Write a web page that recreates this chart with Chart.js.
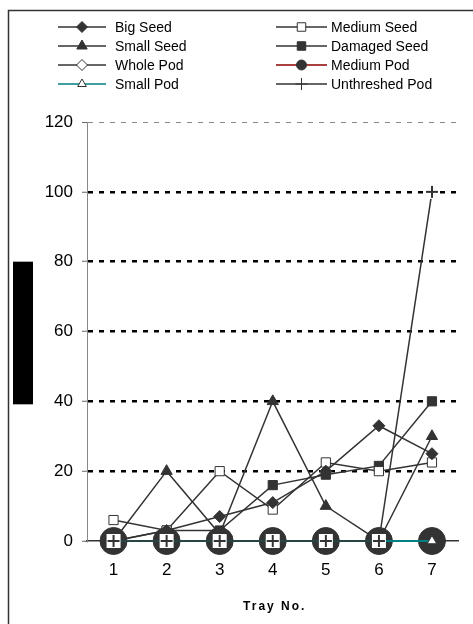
<!DOCTYPE html>
<html>
<head>
<meta charset="utf-8">
<script src="https://cdn.jsdelivr.net/npm/chart.js@4/dist/chart.umd.min.js"></script>
<style>
  body { margin: 0; background: #fff; }
  #wrap { position: relative; width: 473px; height: 624px; }
</style>
</head>
<body>
<div id="wrap"><canvas id="chart"></canvas></div>
<script>
const trays = ["1", "2", "3", "4", "5", "6", "7"];
const bigSeed = [0, 3, 7, 11, 20, 33, 25];
const mediumSeed = [6, 3, 20, 9, 22.5, 20, 22.5];
const smallSeed = [0, 20, 2, 40, 10, 0, 30];
const damagedSeed = [0, 3, 3, 16, 19, 21.5, 40];
const wholePod = [0, 0, 0, 0, 0, 0, 0];
const mediumPod = [0, 0, 0, 0, 0, 0, 0];
const smallPod = [0, 0, 0, 0, 0, 0, 0];
const unthreshedPod = [0, 0, 0, 0, 0, 0, 100];
const yTicks = [0, 20, 40, 60, 80, 100, 120];

const FONT = "'Liberation Sans', Arial, sans-serif";
const INK = "#333";

// "+" marker drawn on a white square, like the spreadsheet plus marker
function plusMarker() {
  const c = document.createElement("canvas");
  c.width = 16; c.height = 16;
  const g = c.getContext("2d");
  g.fillStyle = "#fff";
  g.fillRect(1, 1, 14, 14);
  g.fillStyle = INK;
  g.fillRect(7, 2, 2, 12);
  g.fillRect(2, 7, 12, 2);
  return c;
}

function series(label, data, opts) {
  return Object.assign({
    label, data,
    borderColor: INK, borderWidth: 1.5,
    pointBorderColor: INK, pointBackgroundColor: INK,
    pointBorderWidth: 1, pointRadius: 5, pointHoverRadius: 5,
    tension: 0, order: 3, clip: false
  }, opts);
}

const datasets = [
  series("Big Seed", bigSeed, { pointStyle: "rectRot", pointRadius: 6 }),
  series("Medium Seed", mediumSeed, { pointStyle: "rect", pointRadius: 6.5, pointBackgroundColor: "#fff" }),
  series("Small Seed", smallSeed, { pointStyle: "triangle", pointRadius: 6.5 }),
  series("Damaged Seed", damagedSeed, { pointStyle: "rect", pointRadius: 6.5 }),
  series("Whole Pod", wholePod, { pointStyle: "rectRot", pointRadius: 6, pointBackgroundColor: "#fff" }),
  series("Medium Pod", mediumPod, { pointStyle: "circle", pointRadius: 13.5, borderColor: "#8b0000", legendRadius: 5, order: 2 }),
  series("Small Pod", smallPod, { pointStyle: "triangle", pointRadius: 5.5, pointBackgroundColor: "#fff", borderColor: "#008080", borderWidth: 2, order: 1 }),
  series("Unthreshed Pod", unthreshedPod, { pointStyle: plusMarker(), legendStyle: "cross", legendRadius: 6, order: 0 })
];

// two-column legend at the top, plus frame, side block and axis title
const decor = {
  id: "decor",
  afterDraw(chart) {
    const ctx = chart.ctx;
    const rows = [27, 46, 65, 84];
    const cols = [{ x0: 58, x1: 106, tx: 115 }, { x0: 276, x1: 327, tx: 331 }];
    ctx.save();
    chart.data.datasets.forEach((ds, i) => {
      const col = cols[i % 2];
      const y = rows[Math.floor(i / 2)];
      ctx.strokeStyle = ds.borderColor;
      ctx.lineWidth = 1.5;
      ctx.beginPath();
      ctx.moveTo(col.x0, y);
      ctx.lineTo(col.x1, y);
      ctx.stroke();
      ctx.fillStyle = ds.pointBackgroundColor;
      ctx.strokeStyle = ds.pointBorderColor;
      ctx.lineWidth = 1;
      Chart.helpers.drawPoint(ctx, {
        pointStyle: ds.legendStyle || ds.pointStyle,
        radius: ds.legendRadius || ds.pointRadius - 0.5,
        rotation: 0,
        borderWidth: ds.legendStyle === "cross" ? 1.5 : 1
      }, (col.x0 + col.x1) / 2, y);
      ctx.fillStyle = "#000";
      ctx.font = "14px " + FONT;
      ctx.textBaseline = "middle";
      ctx.textAlign = "left";
      ctx.fillText(ds.label, col.tx, y + 1);
    });

    // outer frame
    ctx.strokeStyle = INK;
    ctx.lineWidth = 1.5;
    ctx.beginPath();
    ctx.moveTo(8.5, chart.height);
    ctx.lineTo(8.5, 10.5);
    ctx.lineTo(chart.width, 10.5);
    ctx.stroke();

    // solid block over the value axis title
    const ys = chart.scales.y;
    const top = ys.getPixelForValue(80);
    const bottom = ys.getPixelForValue(40) + 3;
    ctx.fillStyle = "#000";
    ctx.fillRect(13, top, 20, bottom - top);

    // x axis title
    const area = chart.chartArea;
    ctx.font = "bold 12px " + FONT;
    ctx.letterSpacing = "2px";
    ctx.textAlign = "center";
    ctx.textBaseline = "middle";
    ctx.fillText("Tray No.", (area.left + area.right) / 2 + 2, 607);
    ctx.restore();
  }
};

new Chart(document.getElementById("chart"), {
  type: "line",
  data: { labels: trays, datasets },
  options: {
    responsive: true,
    maintainAspectRatio: false,
    animation: false,
    layout: { padding: { top: 122, right: 12, left: 0, bottom: 0 } },
    plugins: { legend: { display: false }, tooltip: { enabled: false } },
    scales: {
      x: {
        offset: true,
        grid: { drawOnChartArea: false, drawTicks: true, tickLength: 5, tickColor: INK, tickWidth: 1 },
        border: { display: true, color: INK, width: 1.5 },
        ticks: { color: "#000", font: { family: FONT, size: 17 }, padding: 14 },
        afterFit(s) { s.height = 83; }
      },
      y: {
        min: 0,
        max: 120,
        afterBuildTicks(s) { s.ticks = yTicks.map(v => ({ value: v })); },
        grid: {
          color: c => c.tick.value === 0 ? "rgba(0,0,0,0)" : (c.tick.value === 120 ? "#888" : "#000"),
          lineWidth: c => c.tick.value === 120 ? 1 : 2.5,
          tickColor: "#666",
          tickWidth: 1,
          tickLength: 5,
          drawTicks: true
        },
        border: { display: true, color: "#888", width: 1, dash: [5, 6] },
        ticks: { color: "#000", font: { family: FONT, size: 17 }, padding: 9 },
        afterFit(s) { s.width = 87; }
      }
    }
  },
  plugins: [decor]
});
</script>
</body>
</html>
